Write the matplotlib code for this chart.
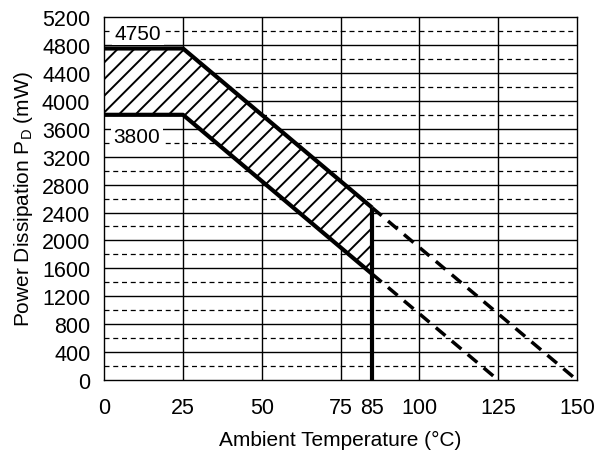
import numpy as np
import matplotlib.pyplot as plt

plt.rcParams['font.family'] = ['Liberation Sans', 'DejaVu Sans']
plt.rcParams['mathtext.fontset'] = 'custom'
plt.rcParams['mathtext.rm'] = 'Liberation Sans'
plt.rcParams['hatch.linewidth'] = 1.4

# derating curves (temperature in C, power in mW)
upper_t = [0, 25, 85]
upper_p = [4750, 4750, 2470]
lower_t = [0, 25, 85]
lower_p = [3800, 3800, 1520]
upper_ext_t = [85, 150]
upper_ext_p = [2470, 0]
lower_ext_t = [85, 125]
lower_ext_p = [1520, 0]

xticks = [0, 25, 50, 75, 85, 100, 125, 150]
yticks = list(range(0, 5201, 400))

fig = plt.figure(figsize=(6.06, 4.52), dpi=100)
ax = fig.add_axes([0.172, 0.157, 0.78, 0.803])

# gridlines
for y in yticks[1:-1]:
    ax.axhline(y, color='black', lw=1.0, zorder=1)
for y in range(200, 5200, 400):
    ax.axhline(y, color='black', lw=0.9, ls=(0, (4, 3)), zorder=1)
for x in [25, 50, 75, 100, 125]:
    ax.axvline(x, color='black', lw=1.0, zorder=1)

# hatched area between curves
t = np.array([0, 25, 85])
ax.fill_between(t, lower_p, upper_p, facecolor='white', edgecolor='black',
                hatch='//', linewidth=0, zorder=2)

ax.plot(upper_t, upper_p, color='black', lw=3, solid_capstyle='butt', zorder=3)
ax.plot(lower_t, lower_p, color='black', lw=3, solid_capstyle='butt', zorder=3)
ax.plot([85, 85], [0, upper_p[-1]], color='black', lw=3, solid_capstyle='butt', zorder=3)
ax.plot(upper_ext_t, upper_ext_p, color='black', lw=2.5, dashes=(3.6, 2.4), zorder=3)
ax.plot(lower_ext_t, lower_ext_p, color='black', lw=2.5, dashes=(3.6, 2.4), zorder=3)

box = dict(facecolor='white', edgecolor='none', pad=2)
ax.text(10.8, 4970, '4750', fontsize=15, ha='center', va='center', bbox=box, zorder=4)
ax.text(10.3, 3490, '3800', fontsize=15, ha='center', va='center', bbox=box, zorder=4)

ax.set_xlim(0, 150)
ax.set_ylim(0, 5200)
ax.set_xticks(xticks)
ax.set_xticklabels(['0', '25', '50', '75', '85', '100', '125', '150'])
ax.set_yticks(yticks)
ax.tick_params(length=0, labelsize=15.5)
ax.tick_params(axis='y', pad=10)
ax.tick_params(axis='x', pad=12)
for s in ax.spines.values():
    s.set_linewidth(1.0)

ax.set_xlabel('Ambient Temperature (°C)', fontsize=15, labelpad=9)
ax.set_ylabel('Power Dissipation P$_{\\mathrm{D}}$ (mW)', fontsize=15, labelpad=5)

fig.savefig('out.png', dpi=100)
